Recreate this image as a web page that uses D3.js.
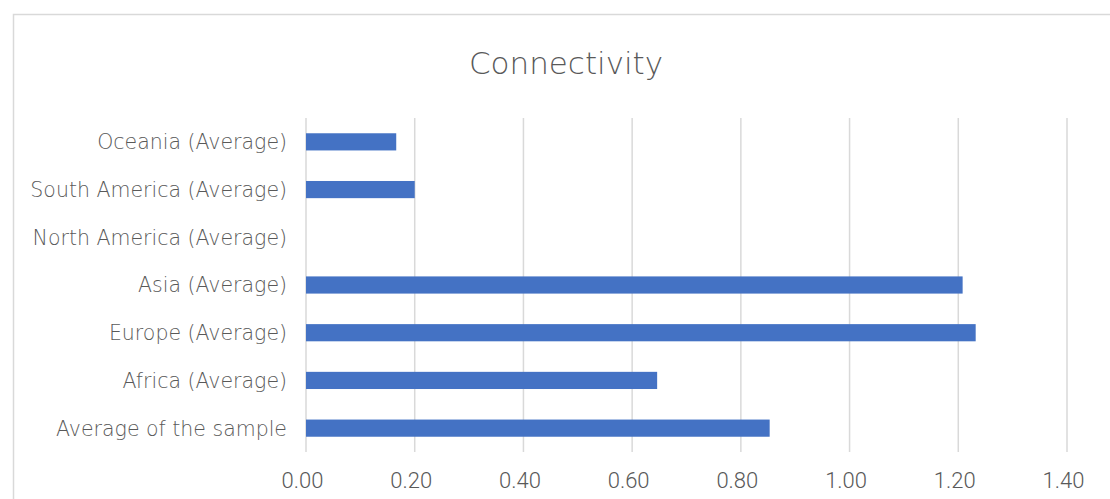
<!DOCTYPE html>
<html>
<head>
<meta charset="utf-8">
<script src="https://cdn.jsdelivr.net/npm/d3@7"></script>
<style>
  body { margin:0; background:#fff; }
  text { font-family: "DejaVu Sans", sans-serif; font-weight:200; fill:#595959; }
  .tick-label { font-family: Roboto, sans-serif; font-weight:300; }
</style>
</head>
<body>
<div id="chart"></div>
<script>
var categories = ["Average of the sample", "Africa (Average)", "Europe (Average)", "Asia (Average)",
                  "North America (Average)", "South America (Average)", "Oceania (Average)"];
var values = [0.853, 0.646, 1.232, 1.208, 0, 0.200, 0.166];
var tickValues = [0, 0.2, 0.4, 0.6, 0.8, 1.0, 1.2, 1.4];

var width = 1110, height = 499;
var margin = {t:118, r:43, b:47, l:306};

var svg = d3.select("#chart").append("svg")
    .attr("width", width)
    .attr("height", height);

// chart frame (runs off the right and bottom edge)
svg.append("rect")
    .attr("x", 13.5).attr("y", 14.5)
    .attr("width", 1200).attr("height", 600)
    .attr("fill", "none")
    .attr("stroke", "#d9d9d9")
    .attr("stroke-width", 1.5);

var x = d3.scaleLinear().domain([0, 1.4]).range([margin.l, width - margin.r]);
var y = d3.scaleBand().domain(categories.slice().reverse())
    .range([margin.t, height - margin.b])
    .paddingInner(0.64).paddingOuter(0.32);

// gridlines
svg.append("g").selectAll("line")
    .data(tickValues)
    .enter().append("line")
    .attr("x1", function(d){ return x(d); })
    .attr("x2", function(d){ return x(d); })
    .attr("y1", margin.t).attr("y2", height - margin.b)
    .attr("stroke", "#d9d9d9")
    .attr("stroke-width", 1.5);

// bars
svg.append("g").selectAll("rect")
    .data(values)
    .enter().append("rect")
    .attr("x", x(0))
    .attr("y", function(d, i){ return y(categories[i]); })
    .attr("width", function(d){ return x(d) - x(0); })
    .attr("height", y.bandwidth())
    .attr("fill", "#4472c4");

// category labels
svg.append("g").selectAll("text")
    .data(categories)
    .enter().append("text")
    .attr("x", 287)
    .attr("y", function(d){ return y(d) + y.bandwidth()/2; })
    .attr("dy", "0.36em")
    .attr("text-anchor", "end")
    .style("font-size", "20.5px")
    .text(function(d){ return d; });

// x tick labels
svg.append("g").selectAll("text")
    .data(tickValues)
    .enter().append("text")
    .attr("class", "tick-label")
    .attr("x", function(d){ return x(d) - 3.5; })
    .attr("y", 488)
    .attr("text-anchor", "middle")
    .style("font-size", "22px")
    .text(function(d){ return d3.format(".2f")(d); });

// title
svg.append("text")
    .attr("x", 566).attr("y", 74)
    .attr("text-anchor", "middle")
    .style("font-size", "31px")
    .text("Connectivity");
</script>
</body>
</html>
